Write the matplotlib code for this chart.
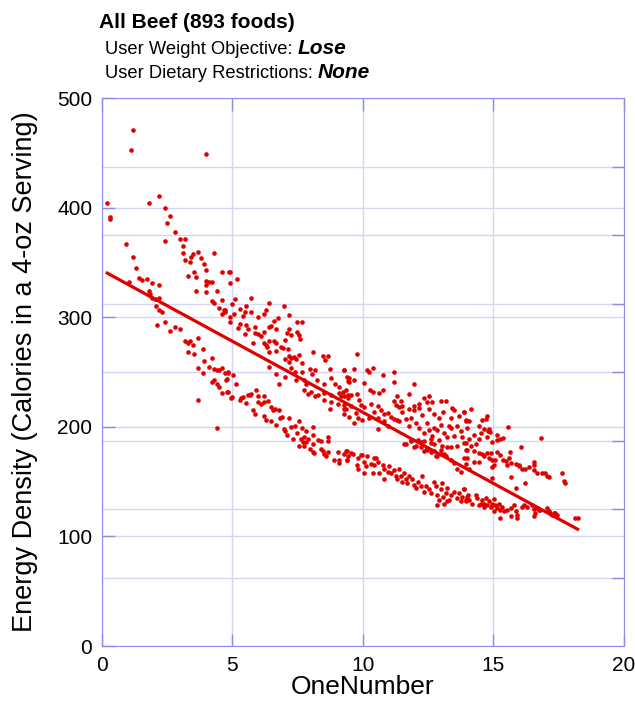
import numpy as np
import matplotlib
matplotlib.use("Agg")
import matplotlib.pyplot as plt

plt.rcParams['font.family'] = ['Liberation Sans', 'DejaVu Sans']

title = "All Beef (893 foods)"
objective_label = "User Weight Objective: "
objective = "Lose"
restriction_label = "User Dietary Restrictions: "
restriction = "None"
x_label = "OneNumber"
y_label = "Energy Density (Calories in a 4-oz Serving)"

# fitted trend line
fit_slope = -12.96
fit_intercept = 343.0

# (OneNumber, calories), grouped by region
foods_low_score = [
    (0.20, 404), (0.32, 392), (0.32, 390), (1.81, 404), (2.19, 411), (2.41, 400),
    (2.60, 393), (2.51, 386), (2.80, 378), (2.41, 370), (2.99, 372), (3.20, 372),
    (3.11, 365), (3.11, 359), (0.92, 367), (1.20, 355), (1.30, 345), (1.40, 336),
    (1.52, 334), (1.71, 335), (1.90, 331), (2.19, 330), (1.02, 332), (1.81, 324),
    (1.84, 321), (1.90, 318), (2.03, 317), (2.19, 318), (2.09, 310), (2.19, 307),
    (2.29, 305), (2.10, 293), (2.41, 296), (2.60, 288), (2.80, 291), (2.99, 289),
    (3.20, 352), (3.39, 351), (3.49, 358), (3.70, 360), (3.40, 355), (3.80, 354),
    (3.90, 349), (4.00, 343), (4.29, 359), (3.31, 338), (3.51, 341), (3.61, 337),
    (3.59, 324), (4.00, 333), (4.00, 330), (4.09, 332), (4.21, 332), (4.00, 323),
    (4.40, 324), (4.62, 341), (4.87, 341), (4.62, 316), (4.21, 315), (4.31, 313),
    (4.50, 309), (4.67, 307), (4.72, 305), (4.62, 303), (3.20, 278), (3.30, 277),
    (3.39, 278), (3.49, 275), (3.31, 268), (3.51, 267), (3.70, 281), (3.89, 271),
    (3.70, 254), (3.90, 260), (3.89, 249), (4.10, 255), (4.21, 263), (4.29, 253),
    (4.40, 252), (4.50, 252), (4.60, 254), (4.21, 241), (4.31, 243), (4.40, 239),
    (4.50, 236), (4.62, 231), (4.81, 232), (4.70, 249), (4.81, 244), (4.84, 250),
    (3.70, 225), (4.40, 199), (1.20, 471), (1.11, 453), (4.00, 449),
]

foods_score_5_to_9 = [
    (4.89, 341), (4.89, 331), (5.19, 335), (5.09, 317), (4.98, 312), (5.70, 318),
    (4.70, 307), (4.89, 300), (5.06, 303), (5.28, 308), (5.51, 310), (5.50, 305),
    (5.72, 305), (5.40, 301), (4.89, 296), (5.28, 294), (5.21, 290), (5.51, 293),
    (5.60, 289), (5.47, 285), (5.98, 300), (6.21, 303), (6.30, 307), (6.39, 313),
    (6.97, 310), (7.19, 302), (6.59, 297), (6.74, 299), (6.49, 292), (6.40, 291),
    (6.68, 289), (6.21, 287), (5.88, 291), (5.98, 285), (6.08, 283), (5.79, 277),
    (5.85, 286), (6.21, 277), (6.30, 275), (6.40, 278), (6.61, 278), (6.68, 277),
    (6.34, 273), (6.42, 268), (6.68, 269), (6.93, 272), (7.00, 279), (7.08, 286),
    (7.19, 289), (7.25, 284), (7.48, 287), (7.48, 296), (7.67, 296), (7.57, 284),
    (7.61, 280), (6.87, 273), (7.12, 271), (7.19, 265), (7.25, 263), (7.38, 264),
    (7.44, 262), (7.00, 262), (7.19, 259), (7.57, 266), (7.67, 258), (8.08, 268),
    (8.46, 265), (8.68, 265), (8.55, 261), (6.40, 255), (6.68, 248), (6.78, 239),
    (7.00, 246), (7.23, 254), (7.42, 250), (7.67, 250), (7.44, 243), (7.76, 243),
    (7.83, 239), (7.99, 253), (8.04, 248), (8.17, 252), (8.25, 243), (8.53, 239),
    (8.76, 253), (8.78, 245), (8.95, 239), (9.10, 236), (9.27, 252), (9.40, 246),
    (9.45, 242), (7.76, 234), (8.02, 232), (8.27, 229), (8.53, 231), (8.78, 229),
    (9.10, 231), (9.27, 228), (9.45, 226), (7.89, 230), (8.17, 228), (8.53, 225),
    (8.78, 223), (8.76, 216), (9.04, 221), (9.27, 216), (9.27, 212), (9.17, 228),
    (9.23, 232),
    (4.83, 249), (5.02, 247), (4.77, 243), (5.15, 239), (4.83, 232), (4.96, 226),
    (5.34, 226), (5.66, 229), (5.92, 234), (5.98, 228), (6.21, 228), (4.98, 227),
    (5.28, 225), (5.40, 227), (5.53, 222), (5.59, 229), (5.72, 230), (5.98, 223),
    (6.11, 221), (6.23, 223), (6.36, 224), (6.49, 218), (6.55, 215), (5.79, 215),
    (5.88, 212), (6.21, 210), (6.30, 206), (6.49, 205), (6.68, 202), (6.81, 208),
    (6.90, 209), (6.77, 215), (6.62, 216), (6.97, 198), (7.02, 196), (7.10, 193),
    (7.19, 208), (7.25, 200), (7.32, 189), (7.41, 201), (7.48, 194), (7.57, 205),
    (7.66, 199), (7.64, 189), (7.70, 186), (7.76, 191), (7.83, 196), (7.83, 186),
    (7.89, 189), (8.08, 200), (8.08, 193), (8.08, 184), (7.57, 183), (7.76, 183),
    (7.99, 180), (8.08, 177), (8.14, 176), (8.27, 188), (8.40, 187), (8.40, 180),
    (8.46, 178), (8.53, 175), (8.59, 173), (8.68, 191), (8.68, 187), (8.65, 177),
    (8.88, 170), (9.06, 177), (9.10, 170), (9.10, 167), (9.27, 175), (9.40, 170),
    (9.40, 178),
]

foods_score_9_to_14 = [
    (9.78, 267), (9.29, 252), (9.67, 253), (10.18, 252), (10.25, 250), (10.38, 254),
    (10.76, 247), (11.18, 250), (11.18, 241), (9.48, 245), (9.67, 243), (9.48, 241),
    (10.06, 240), (10.29, 234), (10.38, 232), (10.63, 231), (10.76, 234), (9.78, 230),
    (9.36, 234), (9.42, 229), (9.55, 229), (11.97, 239), (11.78, 230), (11.33, 228),
    (11.46, 224), (11.20, 224), (11.27, 220), (11.52, 219), (12.35, 226), (12.54, 228),
    (12.67, 223), (12.99, 224), (13.18, 224), (12.48, 223), (11.97, 219), (12.16, 221),
    (9.29, 220), (9.36, 216), (9.55, 219), (9.87, 225), (9.93, 220), (10.06, 218),
    (10.31, 221), (10.57, 219), (10.69, 215), (10.44, 214), (10.82, 212), (10.95, 213),
    (11.08, 209), (11.20, 207), (11.33, 206), (9.74, 213), (9.80, 208), (9.67, 204),
    (9.48, 209), (9.99, 206), (10.25, 208), (10.57, 208), (10.82, 205), (10.57, 198),
    (10.95, 201), (11.40, 218), (11.52, 214), (11.78, 216), (11.97, 215), (12.16, 217),
    (12.29, 211), (12.54, 216), (12.73, 212), (12.92, 208), (13.09, 214), (13.43, 217),
    (13.50, 215), (13.88, 214), (13.95, 206), (13.69, 210), (13.38, 208), (11.40, 205),
    (11.65, 207), (11.78, 201), (11.84, 208), (12.03, 204), (12.16, 199), (12.33, 194),
    (12.48, 204), (12.54, 197), (12.73, 199), (12.67, 192), (12.86, 197), (12.99, 202),
    (13.12, 194), (13.31, 201), (13.37, 199), (13.63, 201), (13.76, 196), (13.82, 191),
    (13.98, 199), (13.50, 192), (13.24, 191), (12.93, 188), (12.61, 185), (12.35, 187),
    (12.10, 188), (11.84, 188), (11.59, 184), (11.97, 182), (12.22, 182), (12.48, 179),
    (12.73, 178), (13.05, 183), (13.37, 182), (13.63, 183), (13.88, 185), (14.01, 179),
    (12.99, 175), (13.18, 173), (12.80, 173), (11.65, 184), (11.84, 187), (12.03, 183),
    (12.22, 186), (12.35, 178), (12.48, 181), (12.61, 177), (12.73, 184), (12.86, 173),
    (12.99, 179), (13.12, 175), (13.24, 182), (13.37, 170), (13.50, 167), (13.63, 162),
    (13.76, 159), (13.88, 172), (13.95, 179), (12.61, 189),
    (9.36, 178), (9.61, 175), (9.93, 174), (10.18, 173), (10.44, 172), (9.80, 172),
    (9.42, 173), (9.55, 176), (9.39, 170), (9.78, 165), (9.80, 162), (9.99, 174),
    (10.06, 168), (10.12, 164), (10.06, 158), (10.31, 166), (10.44, 165), (10.50, 172),
    (10.57, 168), (10.38, 158), (10.63, 158), (10.76, 165), (10.82, 162), (10.95, 159),
    (10.80, 152), (11.01, 164), (11.08, 158), (11.20, 161), (11.27, 155), (11.31, 152),
    (11.40, 162), (11.46, 155), (11.52, 150), (11.59, 158), (11.65, 152), (11.71, 149),
    (11.78, 155), (11.90, 152), (11.97, 147), (12.03, 144), (12.10, 150), (12.22, 146),
    (12.29, 155), (12.35, 141), (12.42, 146), (12.54, 143), (12.63, 140), (12.73, 150),
    (12.80, 146), (12.86, 138), (12.99, 143), (13.05, 149), (13.09, 136), (13.18, 140),
    (13.24, 144), (13.31, 133), (13.37, 138), (13.50, 141), (13.63, 135), (13.69, 140),
    (13.76, 132), (13.82, 136), (13.88, 143), (13.95, 133), (14.03, 138), (12.86, 129),
    (13.12, 130), (13.24, 132), (12.93, 133),
]

foods_high_score = [
    (14.16, 216), (13.88, 214), (13.95, 205), (14.07, 205), (14.46, 201), (14.58, 206),
    (14.71, 207), (14.77, 210), (14.65, 198), (14.84, 198), (14.80, 196), (14.88, 195),
    (14.52, 194), (14.26, 193), (14.46, 189), (14.77, 191), (14.96, 186), (15.15, 193),
    (15.15, 188), (15.26, 189), (15.38, 190), (15.56, 200), (13.95, 185), (14.07, 189),
    (14.14, 183), (14.33, 184), (14.26, 178), (14.46, 176), (14.58, 175), (14.65, 173),
    (14.77, 176), (14.90, 176), (14.84, 172), (14.96, 170), (15.09, 170), (15.15, 177),
    (15.28, 174), (15.38, 170), (15.48, 169), (15.64, 177), (15.60, 172), (15.67, 167),
    (15.54, 165), (15.86, 166), (15.98, 164), (16.11, 162), (16.05, 182), (15.98, 165),
    (16.24, 162), (16.37, 163), (16.56, 168), (16.56, 165), (16.58, 161), (16.69, 158),
    (16.84, 190), (16.88, 158), (17.00, 158), (17.07, 155), (17.13, 154), (17.64, 158),
    (17.73, 151), (17.77, 149), (14.46, 168), (14.26, 168), (14.01, 172), (13.95, 166),
    (14.07, 162), (14.96, 163), (15.03, 165), (15.67, 154), (16.24, 149), (15.86, 144),
    (14.96, 153),
    (13.88, 143), (14.01, 136), (13.95, 132), (14.07, 133), (14.20, 130), (14.33, 138),
    (14.39, 135), (14.46, 129), (14.52, 130), (14.58, 133), (14.65, 127), (14.71, 135),
    (14.77, 129), (14.84, 132), (14.90, 127), (14.96, 130), (15.03, 134), (15.09, 129),
    (15.15, 126), (15.22, 130), (15.28, 124), (15.35, 127), (15.41, 123), (15.54, 124),
    (15.67, 126), (15.79, 129), (15.86, 123), (15.92, 120), (15.92, 117), (16.11, 127),
    (16.18, 129), (16.30, 127), (16.49, 129), (16.56, 125), (16.62, 121), (16.69, 126),
    (16.75, 124), (16.81, 124), (17.07, 126), (17.13, 123), (17.19, 121), (17.26, 120),
    (17.32, 121), (17.39, 121), (17.45, 120), (18.15, 117), (18.24, 117), (15.26, 117),
    (15.67, 119), (16.56, 119), (15.03, 123), (14.65, 130),
]

pts = np.array(foods_low_score + foods_score_5_to_9 + foods_score_9_to_14 + foods_high_score)
x = pts[:, 0]
y = pts[:, 1]

red = '#e00000'
grid_c = '#d4d4f8'
spine_c = '#8c8ce8'

fig = plt.figure(figsize=(6.35, 7.04), dpi=100)
ax = fig.add_axes([102 / 635, 58 / 704, 521.5 / 635, 547.7 / 704])

ax.scatter(x, y, s=11, color=red, linewidths=0, zorder=3)
xs = np.array([x.min(), x.max()])
ax.plot(xs, fit_intercept + fit_slope * xs, color=red, lw=2.3, zorder=4)

ax.set_xlim(0, 20)
ax.set_ylim(0, 500)
ax.set_xticks(np.arange(0, 21, 5))
ax.set_yticks(np.arange(0, 501, 100))
ax.set_yticks(np.arange(0, 501, 62.5), minor=True)
ax.grid(True, which='both', color=grid_c, lw=1)
ax.set_axisbelow(True)
ax.tick_params(which='major', direction='in', length=9, width=1, color=spine_c,
               top=True, bottom=True, left=True, right=False, labelsize=15, pad=7)
ax.tick_params(which='minor', axis='y', direction='in', length=9, width=1,
               color=spine_c, left=False, right=True)
for s in ax.spines.values():
    s.set_color(spine_c)

ax.set_xlabel(x_label, fontsize=19, labelpad=0)
ax.set_ylabel(y_label, fontsize=19.5, labelpad=14)

# header text with mixed styles
fig.text(99 / 635, 1 - 28 / 704, title, fontsize=15, fontweight='bold', va='baseline')
r = fig.canvas.get_renderer()
for i, (label, value) in enumerate([(objective_label, objective), (restriction_label, restriction)]):
    yb = 1 - (54 + 24.5 * i) / 704
    t = fig.text(105 / 635, yb, label, fontsize=13.2, va='baseline')
    bb = t.get_window_extent(r)
    fig.text(bb.x1 / fig.bbox.width, yb, value, fontsize=15, fontweight='bold',
             style='italic', va='baseline')

fig.savefig('out.png', dpi=100)
